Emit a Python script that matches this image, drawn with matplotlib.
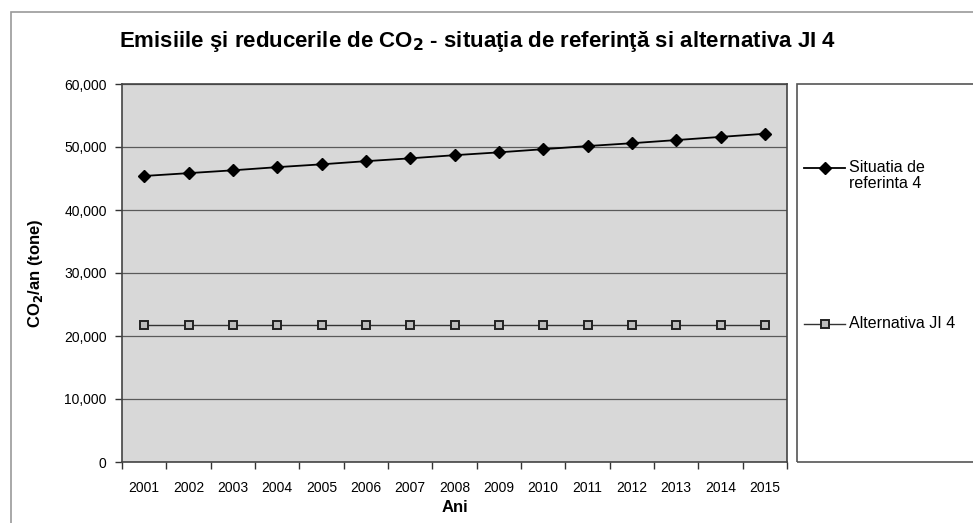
import matplotlib
matplotlib.use("Agg")
import matplotlib.pyplot as plt
from matplotlib.patches import Rectangle
from matplotlib.lines import Line2D
from matplotlib.ticker import FuncFormatter

years = ["2001", "2002", "2003", "2004", "2005", "2006", "2007", "2008",
         "2009", "2010", "2011", "2012", "2013", "2014", "2015"]
referinta = [45400, 45850, 46300, 46800, 47250, 47750, 48200, 48700,
             49150, 49650, 50150, 50600, 51100, 51600, 52100]
alternativa = [21700] * 15
series_names = ["Situatia de\nreferinta 4", "Alternativa JI 4"]

plt.rcParams['font.family'] = ['Liberation Sans', 'DejaVu Sans']

fig = plt.figure(figsize=(9.73, 5.23), dpi=100)
fig.patch.set_facecolor("white")

W, H = 973, 523
def fx(px): return px / W
def fy(py): return 1 - py / H

# outer chart border
fig.patches.append(Rectangle((fx(11), fy(540)), fx(985) - fx(11), fy(12) - fy(540),
                             transform=fig.transFigure, fill=False,
                             edgecolor="#9a9a9a", lw=1.2))

ax = fig.add_axes([fx(122), fy(462), fx(787) - fx(122), fy(84) - fy(462)])
ax.set_facecolor("#d8d8d8")
x = list(range(len(years)))
ax.plot(x, referinta, color="black", lw=1.3, marker="D", ms=6.5,
        markerfacecolor="black", markeredgecolor="black")
ax.plot(x, alternativa, color="#333333", lw=1.0, marker="s", ms=6,
        markerfacecolor="#bdbdbd", markeredgecolor="#222222", markeredgewidth=1.4)

ax.set_xlim(-0.5, len(years) - 0.5)
ax.set_ylim(0, 60000)
ax.set_yticks(range(0, 60001, 10000))
ax.yaxis.set_major_formatter(FuncFormatter(lambda v, p: f"{int(v):,}"))
ax.set_xticks(x)
ax.set_xticklabels(years)
ax.set_xticks([i + 0.5 for i in range(-1, len(years))], minor=True)
ax.tick_params(axis="x", which="major", length=0, labelsize=10, pad=14)
ax.tick_params(axis="x", which="minor", length=5, width=1, color="#333333")
ax.tick_params(axis="y", length=5, width=1, labelsize=10, color="#333333", pad=6)
ax.grid(axis="y", color="#5a5a5a", lw=0.9)
ax.set_axisbelow(True)
for s in ax.spines.values():
    s.set_color("#444444")
    s.set_linewidth(1.2)

ax.set_xlabel("Ani", fontsize=12, fontweight="bold", labelpad=3)
ax.set_ylabel("CO$_\\mathbf{2}$/an (tone)", fontsize=12, fontweight="bold", labelpad=14)

fig.text(fx(478), fy(42), "Emisiile şi reducerile de CO$_\\mathbf{2}$ - situaţia de referinţă si alternativa JI 4",
         ha="center", va="center", fontsize=16, fontweight="bold")

# legend box
fig.patches.append(Rectangle((fx(797), fy(462)), fx(990) - fx(797), fy(84) - fy(462),
                             transform=fig.transFigure, fill=False,
                             edgecolor="#555555", lw=1.2))
fig.lines.append(Line2D([fx(804), fx(845)], [fy(168), fy(168)], transform=fig.transFigure,
                        color="black", lw=1.3))
fig.lines.append(Line2D([fx(824.5)], [fy(168)], transform=fig.transFigure, color="black",
                        marker="D", ms=6.5, markerfacecolor="black"))
fig.text(fx(849), fy(160), series_names[0], ha="left", va="top", fontsize=11.5,
         linespacing=1.1)
fig.lines.append(Line2D([fx(804), fx(845)], [fy(324), fy(324)], transform=fig.transFigure,
                        color="#333333", lw=1.0))
fig.lines.append(Line2D([fx(824.5)], [fy(324)], transform=fig.transFigure, color="black",
                        marker="s", ms=6, markerfacecolor="#bdbdbd",
                        markeredgecolor="#222222", markeredgewidth=1.4))
fig.text(fx(849), fy(324), series_names[1], ha="left", va="center", fontsize=11.5)

fig.savefig("out.png", dpi=100)
